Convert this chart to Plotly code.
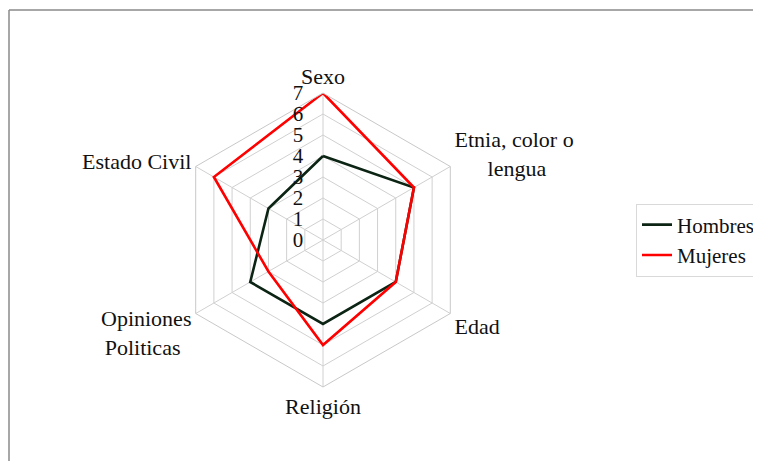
import plotly.graph_objects as go

NB = "\u00a0"
categories = ["Sexo", "Etnia, color o<br>" + NB * 6 + "lengua", "Edad", "Religión",
              "Opiniones<br>Politicas" + NB * 2, "Estado Civil"]
hombres = [4, 5, 4, 4, 4, 3]
mujeres = [7, 5, 4, 5, 3, 6]
radial_ticks = [0, 1, 2, 3, 4, 5, 6, 7]

FONT = "Liberation Serif"
W, H = 761, 461
OFF = 8  # page body margin
cx, cy, R = 323 - OFF, 240 - OFF, 147

def closed(v):
    return v + v[:1]

fig = go.Figure()
fig.add_trace(go.Scatterpolar(r=closed(hombres), theta=closed(categories), mode="lines",
                              name="Hombres", line=dict(color="#0b2413", width=2.6)))
fig.add_trace(go.Scatterpolar(r=closed(mujeres), theta=closed(categories), mode="lines",
                              name="Mujeres", line=dict(color="#ff0000", width=2.6)))

fig.update_layout(
    width=W, height=H,
    margin=dict(l=0, r=0, t=0, b=0),
    paper_bgcolor="white",
    font=dict(family=FONT, size=22, color="#111111"),
    polar=dict(
        domain=dict(x=[(cx - R) / W, (cx + R) / W], y=[(H - cy - R) / H, (H - cy + R) / H]),
        bgcolor="white",
        gridshape="linear",
        angularaxis=dict(direction="clockwise", rotation=90, categoryorder="array",
                         categoryarray=categories, gridcolor="#d0d0d0", linecolor="#c8c8c8",
                         showline=True, ticks="", tickfont=dict(family=FONT, size=22)),
        radialaxis=dict(range=[0, 7], tickvals=radial_ticks, angle=90, tickangle=90,
                        side="counterclockwise", showline=False, gridcolor="#d0d0d0",
                        ticks="outside", ticklen=12, tickcolor="rgba(0,0,0,0)",
                        tickfont=dict(family=FONT, size=21)),
    ),
    legend=dict(x=(636 - OFF) / W, y=1 - (240 - OFF) / H, xanchor="left", yanchor="middle",
                bordercolor="#d9d9d9", borderwidth=1, font=dict(family=FONT, size=21),
                tracegroupgap=0, itemwidth=30),
    shapes=[
        dict(type="line", xref="paper", yref="paper", x0=(9 - OFF) / W, x1=1,
             y0=1 - (10 - OFF) / H, y1=1 - (10 - OFF) / H,
             line=dict(color="#8a8a8a", width=1.5)),
        dict(type="line", xref="paper", yref="paper", x0=(9 - OFF) / W, x1=(9 - OFF) / W,
             y0=0, y1=1 - (10 - OFF) / H,
             line=dict(color="#8a8a8a", width=1.5)),
    ],
)

fig.write_html("out.html")
